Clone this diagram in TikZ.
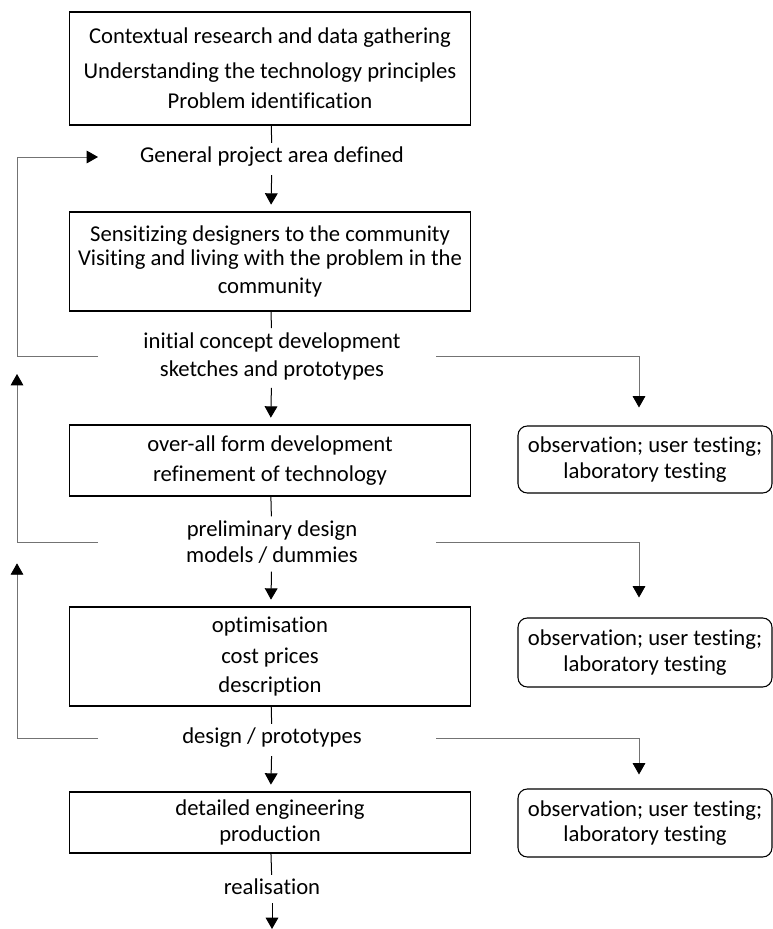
\documentclass[tikz,border=0pt]{standalone}
\usepackage{fontspec}
\setmainfont{Carlito}[Ligatures=NoCommon]
\usetikzlibrary{arrows.meta}

\begin{document}
\begin{tikzpicture}[
        x=0.75pt, y=-0.75pt,
        font=\fontsize{17}{19}\selectfont,
        stage/.style={rectangle, draw, line width=1pt, minimum width=300.75pt, align=center, inner sep=2pt},
        check/.style={rectangle, draw, line width=0.8pt, rounded corners=7pt, minimum width=190.5pt, align=center, inner sep=2pt},
        outcome/.style={align=center, inner sep=3pt},
        flow/.style={-{Triangle[width=9.5pt,length=8.5pt]}, line width=0.75pt, shorten <=3pt, shorten >=5pt},
        feedback/.style={draw=black!55, line width=0.6pt, -{Triangle[width=9.5pt,length=8.5pt,color=black]}},
        plain/.style={line width=0.75pt}
    ]
        \useasboundingbox (0,0) rectangle (773,929);

        \node[stage, minimum height=84.75pt] (research) at (270,68.5) {Contextual research and data gathering\\[7pt] Understanding the technology principles\\[3.5pt] Problem identification};
        \node[outcome] (area) at (272,157) {General project area defined};
        \node[stage, minimum height=74.25pt] (sensitize) at (270,261.5) {Sensitizing designers to the community\\[-1pt] Visiting and living with the problem in the\\[2pt] community};
        \node[outcome] (concept) at (272,356) {initial concept development\\[2pt] sketches and prototypes};
        \node[stage, minimum height=53.25pt] (form) at (270,460.5) {over-all form development\\[3pt] refinement of technology};
        \node[outcome] (prelim) at (272,542) {preliminary design\\[0.5pt] models / dummies};
        \node[stage, minimum height=74.25pt] (optim) at (270,656.5) {optimisation\\[4pt] cost prices\\[3pt] description};
        \node[outcome] (design) at (272,738) {design / prototypes};
        \node[stage, minimum height=45.75pt] (engineer) at (270,822.5) {detailed engineering\\ production};
        \node[outcome] (real) at (272,887) {realisation};
        \coordinate (finish) at (272,929);

        \node[check, minimum height=50.25pt] (test1) at (645,459.5) {observation; user testing;\\ laboratory testing};
        \node[check, minimum height=51.75pt] (test2) at (645,652.5) {observation; user testing;\\ laboratory testing};
        \node[check, minimum height=51pt] (test3) at (645,823) {observation; user testing;\\ laboratory testing};

        \coordinate (rail) at (17,0);
        \coordinate (gapL) at (98,0);
        \coordinate (gapR) at (436,0);

        % main line
        \draw[plain] (research) -- (area);
        \draw[flow] (area) -- (sensitize);
        \draw[plain] (sensitize) -- (concept);
        \draw[flow] (concept) -- (form);
        \draw[plain] (form) -- (prelim);
        \draw[flow] (prelim) -- (optim);
        \draw[plain] (optim) -- (design);
        \draw[flow] (design) -- (engineer);
        \draw[plain] (engineer) -- (real);
        \draw[flow, shorten >=0pt] (real) -- (finish);

        % loops back
        \draw[feedback] (gapL |- concept) -| (rail |- area) -- (gapL |- area);
        \draw[feedback] (gapL |- prelim) -- (rail |- prelim) -- ([yshift=-13.5pt]rail |- concept);
        \draw[feedback] (gapL |- design) -- (rail |- design) -- ([yshift=-16pt]rail |- prelim);

        % testing
        \draw[feedback, shorten >=13.5pt] (gapR |- concept) -| ([xshift=-4.5pt]test1.north);
        \draw[feedback, shorten >=15pt] (gapR |- prelim) -| ([xshift=-4.5pt]test2.north);
        \draw[feedback, shorten >=10.5pt] (gapR |- design) -| ([xshift=-4.5pt]test3.north);
    \end{tikzpicture}
\end{document}
